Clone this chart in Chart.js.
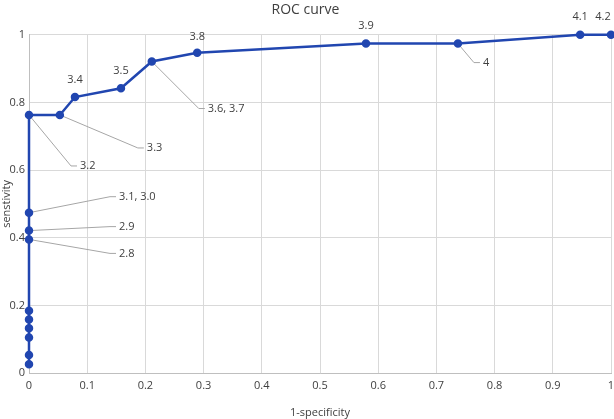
<!DOCTYPE html>
<html>
<head>
<meta charset="utf-8">
<script src="https://cdn.jsdelivr.net/npm/chart.js@4"></script>
<style>
  html, body { margin: 0; padding: 0; background: #fff; }
  #wrap { width: 614px; height: 419px; }
</style>
</head>
<body>
<div id="wrap"><canvas id="roc" width="614" height="419"></canvas></div>
<script>
// data
const fpr = [0, 0, 0, 0, 0, 0, 0, 0, 0, 0, 0.053, 0.079, 0.158, 0.211, 0.289, 0.579, 0.737, 0.947, 1];
const tpr = [0.026, 0.053, 0.105, 0.132, 0.158, 0.184, 0.395, 0.421, 0.474, 0.763, 0.763, 0.816, 0.842, 0.921, 0.947, 0.974, 0.974, 1, 1];
const cutoffs = ['', '', '', '', '', '', '2.8', '2.9', '3.1, 3.0', '3.2', '3.3', '3.4', '3.5', '3.6, 3.7', '3.8', '3.9', '4', '4.1', '4.2'];

// where each cutoff label sits relative to its point (px)
// elbow = end of the leader line; above = plain label over the point
const labelPlace = {
  6:  { elbow: [81, 14] },
  7:  { elbow: [81, -4] },
  8:  { elbow: [81, -16] },
  9:  { elbow: [42, 51] },
  10: { elbow: [78, 33] },
  11: { above: [0, -17] },
  12: { above: [0, -17] },
  13: { elbow: [47, 47] },
  14: { above: [0, -16] },
  15: { above: [0, -18] },
  16: { elbow: [16, 19] },
  17: { above: [0, -18] },
  18: { above: [-8, -18] }
};

const FONT = '"Open Sans", "Noto Sans", sans-serif';
const points = fpr.map((x, i) => ({ x: x, y: tpr[i] }));
const fmt = v => String(Math.round(v * 10) / 10);

function eachLabel(chart, fn) {
  const xs = chart.scales.x, ys = chart.scales.y;
  cutoffs.forEach((txt, i) => {
    if (!txt) return;
    fn(txt, labelPlace[i], xs.getPixelForValue(fpr[i]), ys.getPixelForValue(tpr[i]));
  });
}

const cutoffLabels = {
  id: 'cutoffLabels',
  // leader lines go under the curve
  beforeDatasetsDraw(chart) {
    const ctx = chart.ctx;
    ctx.save();
    ctx.strokeStyle = '#a6a6a6';
    ctx.lineWidth = 1;
    eachLabel(chart, (txt, p, px, py) => {
      if (!p.elbow) return;
      const ex = px + p.elbow[0], ey = py + p.elbow[1];
      ctx.beginPath();
      ctx.moveTo(px, py);
      ctx.lineTo(ex, ey);
      ctx.lineTo(ex + 6, ey);
      ctx.stroke();
    });
    ctx.restore();
  },
  afterDatasetsDraw(chart) {
    const ctx = chart.ctx;
    ctx.save();
    ctx.font = '11px ' + FONT;
    ctx.fillStyle = '#404040';
    ctx.textBaseline = 'middle';
    eachLabel(chart, (txt, p, px, py) => {
      if (p.elbow) {
        ctx.textAlign = 'left';
        ctx.fillText(txt, px + p.elbow[0] + 9, py + p.elbow[1]);
      } else {
        ctx.textAlign = 'center';
        ctx.fillText(txt, px + p.above[0], py + p.above[1]);
      }
    });
    ctx.restore();
  }
};

new Chart(document.getElementById('roc'), {
  type: 'scatter',
  data: {
    datasets: [{
      data: points,
      showLine: true,
      clip: false,
      borderColor: '#2146b0',
      backgroundColor: '#2146b0',
      borderWidth: 2.5,
      pointRadius: 3,
      pointHoverRadius: 3,
      tension: 0
    }]
  },
  options: {
    responsive: false,
    animation: false,
    layout: { autoPadding: false, padding: { left: 0, right: 3, top: 0, bottom: 0 } },
    plugins: {
      legend: { display: false },
      tooltip: { enabled: false },
      title: {
        display: true,
        text: 'ROC curve',
        color: '#404040',
        font: { family: FONT, size: 14, weight: 'normal' },
        padding: { top: 2, bottom: 16 }
      }
    },
    scales: {
      x: {
        type: 'linear',
        min: 0, max: 1,
        ticks: { stepSize: 0.1, color: '#404040', font: { family: FONT, size: 11 }, padding: 6, maxRotation: 0, callback: fmt },
        grid: { color: '#d9d9d9', drawTicks: false },
        border: { color: '#bfbfbf' },
        title: { display: true, text: '1-specificity', color: '#404040', font: { family: FONT, size: 11 }, padding: { top: 2, bottom: 0 } },
        afterFit: s => { s.height = 46; s.paddingLeft = 0; s.paddingRight = 0; }
      },
      y: {
        type: 'linear',
        min: 0, max: 1,
        ticks: { stepSize: 0.2, color: '#404040', font: { family: FONT, size: 11 }, padding: 4, callback: fmt },
        grid: { color: '#d9d9d9', drawTicks: false },
        border: { color: '#bfbfbf' },
        title: { display: true, text: 'senstivity', color: '#404040', font: { family: FONT, size: 11 }, padding: 0 },
        afterFit: s => { s.width = 29; s.paddingTop = 0; s.paddingBottom = 0; }
      }
    }
  },
  plugins: [cutoffLabels]
});
</script>
</body>
</html>
